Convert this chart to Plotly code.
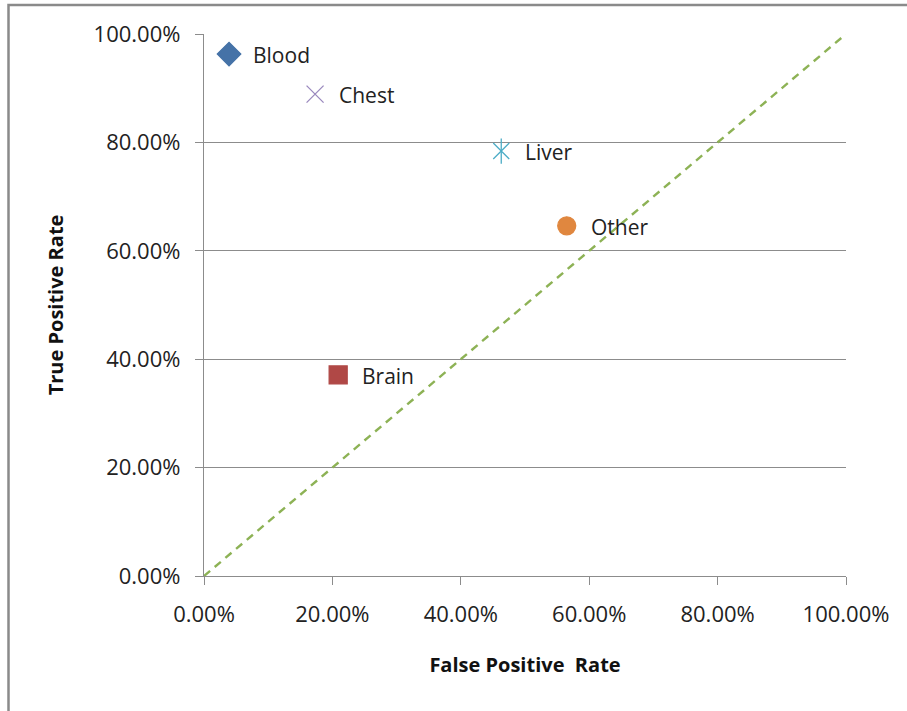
import plotly.graph_objects as go

categories = ["Blood", "Chest", "Liver", "Other", "Brain"]
fpr = [0.039, 0.173, 0.463, 0.565, 0.209]
tpr = [0.963, 0.889, 0.784, 0.646, 0.371]
symbols = ["diamond", "x-thin-open", "x-thin-open", "circle", "square"]
colors = ["#4572A7", "#9A88BE", "#4BACC6", "#E0873F", "#B04846"]
sizes = [18, 17, 16, 18, 18]
diag_x = [0, 1]
diag_y = [0, 1]
tick_vals = [0, 0.2, 0.4, 0.6, 0.8, 1.0]

FONT = "Open Sans, Liberation Sans, sans-serif"

fig = go.Figure()
fig.add_trace(go.Scatter(x=diag_x, y=diag_y, mode="lines",
                         line=dict(color="#8DB255", width=2.4, dash="8px,6px"),
                         showlegend=False, hoverinfo="skip"))
for c, x, y, s, col, sz in zip(categories, fpr, tpr, symbols, colors, sizes):
    fig.add_trace(go.Scatter(
        x=[x], y=[y], mode="markers",
        marker=dict(symbol=s, size=sz, color=col,
                    line=dict(color=col, width=1.3)),
        showlegend=False, cliponaxis=False))
    if c == "Liver":
        # Excel-style star marker: X plus a vertical bar
        fig.add_trace(go.Scatter(
            x=[x], y=[y], mode="markers",
            marker=dict(symbol="line-ns-open", size=sz + 2, color=col,
                        line=dict(color=col, width=1.3)),
            showlegend=False, cliponaxis=False))
    fig.add_annotation(x=x, y=y, text=c, showarrow=False, xanchor="left",
                       yanchor="middle", xshift=22, yshift=-1,
                       font=dict(family=FONT, size=21, color="#222222"))

fig.update_xaxes(range=[0, 1], tickvals=tick_vals, tickformat=".2%",
                 showgrid=False, zeroline=False, showline=True,
                 linecolor="#8C8C8C", linewidth=1.3, ticks="outside",
                 ticklen=8, tickcolor="#8C8C8C", tickwidth=1.3,
                 tickfont=dict(family=FONT, size=22, color="#222222"),
                 ticklabelstandoff=10,
                 title=dict(text="<b>False Positive  Rate</b>", standoff=31,
                            font=dict(family=FONT, size=20, color="#111111")))
fig.update_yaxes(range=[0, 1], tickvals=tick_vals, tickformat=".2%",
                 showgrid=True, gridcolor="#8C8C8C", gridwidth=1.3,
                 zeroline=False, showline=True,
                 linecolor="#8C8C8C", linewidth=1.3, ticks="outside",
                 ticklen=8, tickcolor="#8C8C8C", tickwidth=1.3,
                 tickfont=dict(family=FONT, size=22, color="#222222"),
                 ticklabelstandoff=10,
                 title=dict(text="<b>True Positive Rate</b>", standoff=24,
                            font=dict(family=FONT, size=20, color="#111111")))

# outer chart border
fig.add_shape(type="rect", xref="paper", yref="paper",
              x0=(8.5 - 204) / 642, x1=(912 - 204) / 642,
              y0=(576 - 716) / 542, y1=(576 - 5) / 542,
              line=dict(color="#8A8A8A", width=2.5), layer="below")

fig.update_layout(width=907, height=711,
                  margin=dict(l=204, r=61, t=34, b=135),
                  plot_bgcolor="white", paper_bgcolor="white",
                  font=dict(family=FONT))

fig.write_html("out.html", config={"displayModeBar": False},
               post_script="document.body.style.margin='0';")
